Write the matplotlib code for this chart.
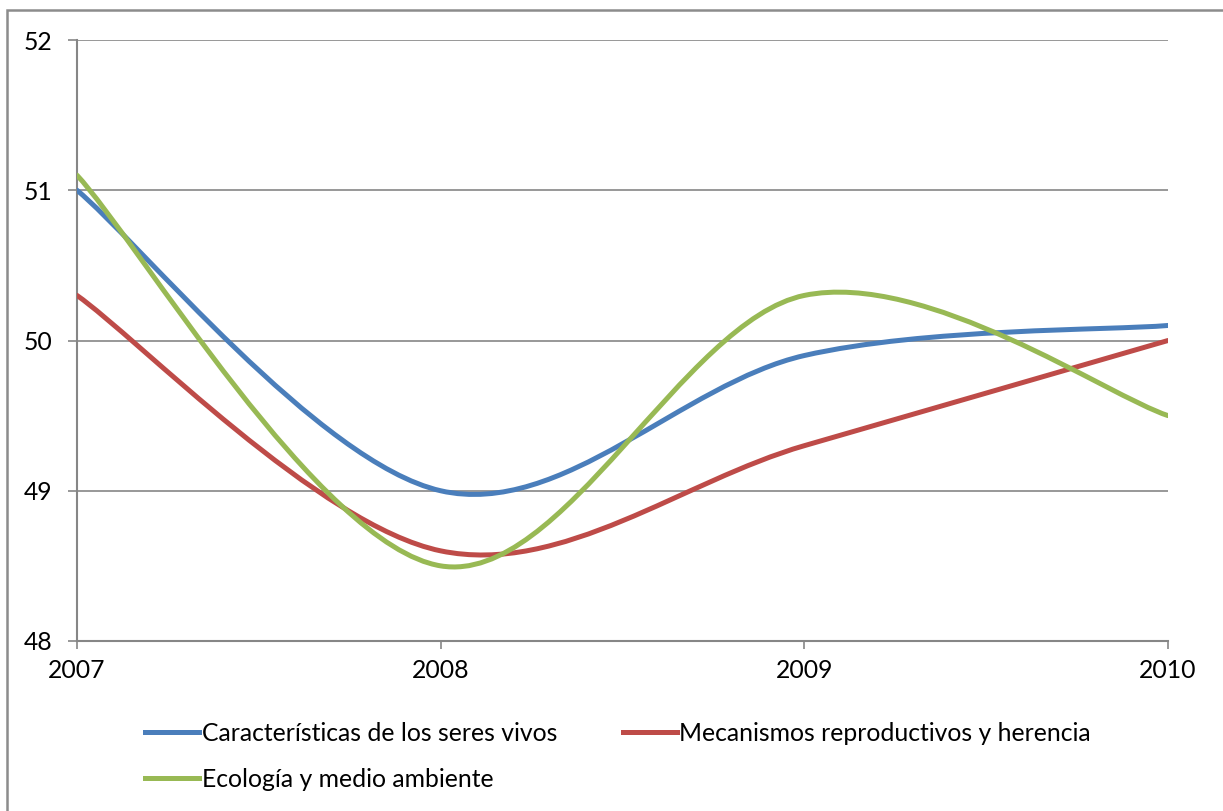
import numpy as np
import matplotlib.pyplot as plt
from matplotlib.path import Path
from matplotlib.patches import PathPatch, Rectangle
from matplotlib.lines import Line2D

plt.rcParams["font.family"] = ["Lato", "DejaVu Sans"]

ANIOS = [2007, 2008, 2009, 2010]
caracteristicas = [51.0, 49.0, 49.9, 50.1]
mecanismos = [50.3, 48.6, 49.3, 50.0]
ecologia = [51.1, 48.5, 50.3, 49.5]

SERIES = [
    ("Características de los seres vivos", caracteristicas, "#4A7EBB"),
    ("Mecanismos reproductivos y herencia", mecanismos, "#BE4B48"),
    ("Ecología y medio ambiente", ecologia, "#98B954"),
]


def curva_suave(xs, ys):
    # linea suavizada tipo Excel: Bezier cubica con tangentes Catmull-Rom
    p = np.column_stack([xs, ys]).astype(float)
    p_ext = np.vstack([p[0], p, p[-1]])
    verts = [tuple(p[0])]
    codes = [Path.MOVETO]
    for i in range(len(p) - 1):
        p0, p1, p2, p3 = p_ext[i], p_ext[i + 1], p_ext[i + 2], p_ext[i + 3]
        c1 = p1 + (p2 - p0) / 6
        c2 = p2 - (p3 - p1) / 6
        verts += [tuple(c1), tuple(c2), tuple(p2)]
        codes += [Path.CURVE4] * 3
    return Path(verts, codes)


fig = plt.figure(figsize=(12.23, 8.11), dpi=100)
ax = fig.add_axes([77 / 1223, 1 - 641 / 811, (1168 - 77) / 1223, (641 - 40) / 811])

gris = "#868686"
for nombre, valores, color in SERIES:
    ax.add_patch(PathPatch(curva_suave(ANIOS, valores), fill=False,
                           edgecolor=color, lw=3.6, capstyle="round", zorder=3))

ax.set_xlim(2007, 2010)
ax.set_ylim(48, 52)
ax.set_xticks(ANIOS)
ax.set_yticks([48, 49, 50, 51, 52])
ax.grid(axis="y", color=gris, lw=1.2)
ax.set_axisbelow(True)
for lado in ["top", "right"]:
    ax.spines[lado].set_visible(False)
for lado in ["left", "bottom"]:
    ax.spines[lado].set_color(gris)
    ax.spines[lado].set_linewidth(1.5)
ax.tick_params(axis="y", length=6.5, width=1.2, color=gris, pad=11, labelsize=17.8)
ax.tick_params(axis="x", length=6, width=1.2, color=gris, pad=7, labelsize=17.8)

handles = [Line2D([], [], color=c, lw=3.6) for _, _, c in SERIES]
etiquetas = [n for n, _, _ in SERIES]
orden = [0, 2, 1]
fig.legend([handles[i] for i in orden], [etiquetas[i] for i in orden],
           loc="center", bbox_to_anchor=(618 / 1223, 1 - 756.5 / 811), ncol=2,
           frameon=False, fontsize=17.8, handlelength=2.2, handletextpad=0.1,
           columnspacing=2.65, labelspacing=0.92)

fig.add_artist(Rectangle((7 / 1223, -0.1), 1.2, 1 - 10 / 811 + 0.1,
                         transform=fig.transFigure, fill=False,
                         edgecolor="#8C8C8C", lw=1.8, clip_on=False))

fig.savefig("out.png", dpi=100)
